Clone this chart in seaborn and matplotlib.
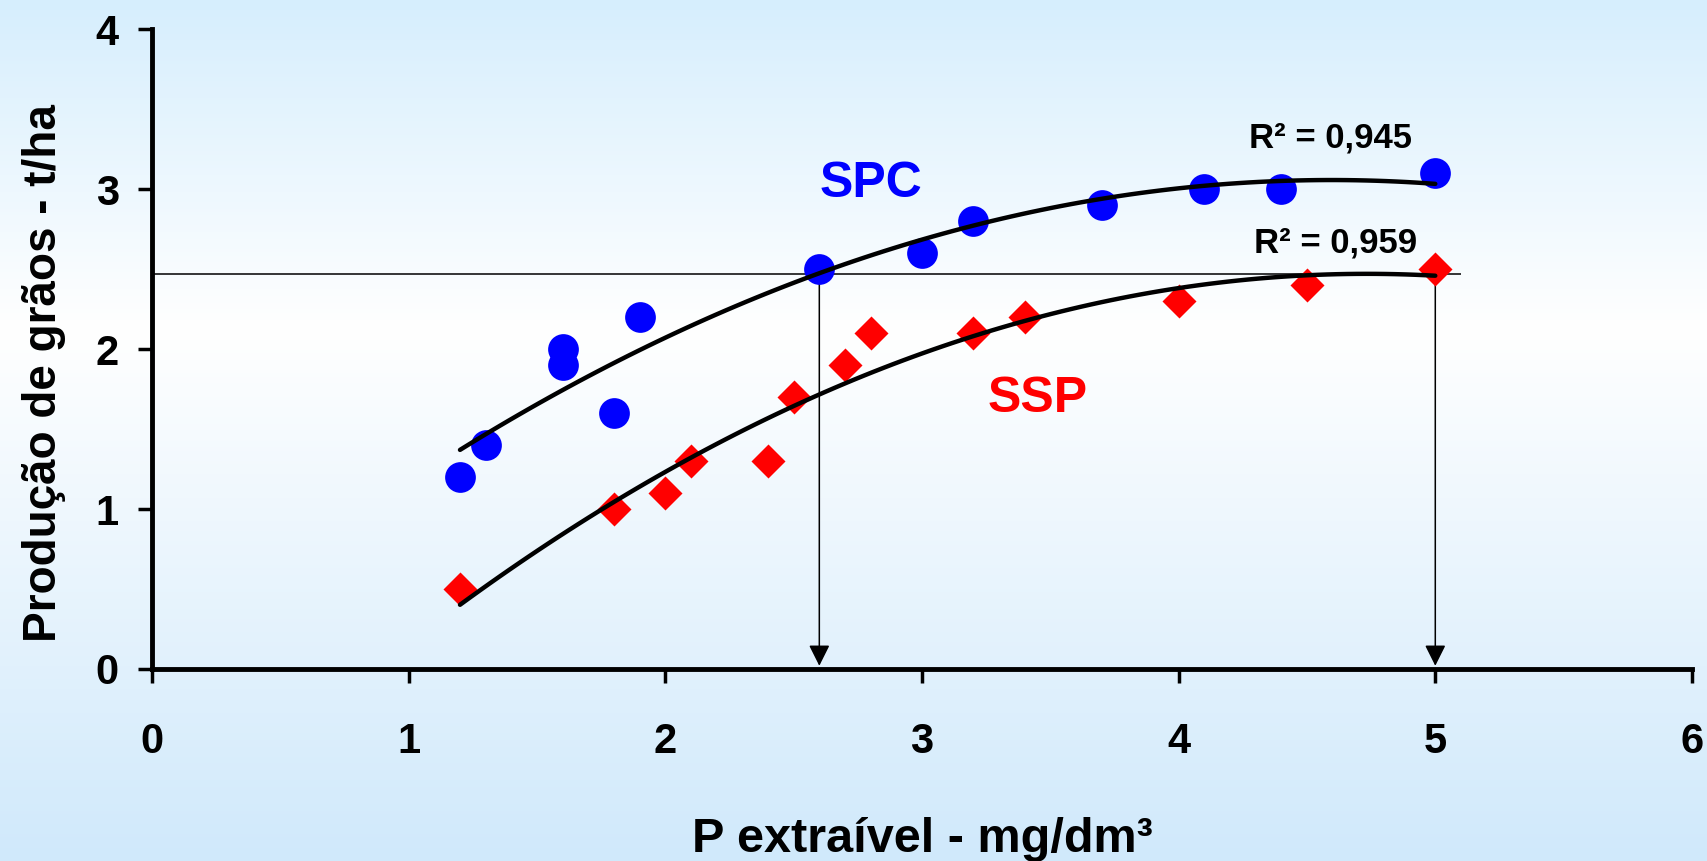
import numpy as np
import matplotlib
matplotlib.use("Agg")
import matplotlib.pyplot as plt
from matplotlib.colors import LinearSegmentedColormap
import seaborn as sns

################################
# data:
################################

spc_x = [1.2, 1.3, 1.6, 1.6, 1.8, 1.9, 2.6, 3.0, 3.2, 3.7, 4.1, 4.4, 5.0]
spc_y = [1.2, 1.4, 2.0, 1.9, 1.6, 2.2, 2.5, 2.6, 2.8, 2.9, 3.0, 3.0, 3.1]

ssp_x = [1.2, 1.8, 2.0, 2.1, 2.4, 2.5, 2.7, 2.8, 3.2, 3.4, 4.0, 4.5, 5.0]
ssp_y = [0.5, 1.0, 1.1, 1.3, 1.3, 1.7, 1.9, 2.1, 2.1, 2.2, 2.3, 2.4, 2.5]

ref_level = 2.47          # horizontal reference line
ref_line_end = 5.1
arrow_x = [2.6, 5.0]      # P levels reaching ref_level

r2_labels = ["R² = 0,945", "R² = 0,959"]
x_ticks = [0, 1, 2, 3, 4, 5, 6]
y_ticks = [0, 1, 2, 3, 4]

################################
# style:
################################

sns.set_style("ticks")
plt.rcParams["font.family"] = ["Liberation Sans", "DejaVu Sans"]
plt.rcParams["font.weight"] = "bold"
for key in ["text.color", "axes.labelcolor", "xtick.color", "ytick.color"]:
    plt.rcParams[key] = "black"

fig = plt.figure(figsize=(17.08, 8.61), dpi=100)

# vertical gradient background
bg = fig.add_axes([0, 0, 1, 1], zorder=-10)
cmap = LinearSegmentedColormap.from_list(
    "bg", [(0.0, "#d6eefd"), (0.38, "#ffffff"), (1.0, "#d0e9fb")]
)
grad = np.linspace(0, 1, 256).reshape(-1, 1)
bg.imshow(grad, aspect="auto", cmap=cmap, extent=[0, 1, 0, 1], origin="upper")
bg.set_axis_off()

ax = fig.add_axes([0.0890, 0.2230, 0.9016, 0.7433])
ax.set_facecolor("none")

################################
# plot:
################################

sns.regplot(x=spc_x, y=spc_y, order=2, ci=None, scatter=False, ax=ax,
            line_kws=dict(color="black", lw=3.2, zorder=3))
sns.regplot(x=ssp_x, y=ssp_y, order=2, ci=None, scatter=False, ax=ax,
            line_kws=dict(color="black", lw=3.2, zorder=3))

sns.scatterplot(x=spc_x, y=spc_y, marker="o", s=490, color="#0000ff",
                linewidth=0, ax=ax, zorder=2)
sns.scatterplot(x=ssp_x, y=ssp_y, marker="D", s=300, color="#ff0000",
                linewidth=0, ax=ax, zorder=2)

ax.hlines(ref_level, 0, ref_line_end, color="black", lw=1.1, zorder=1)
for xa in arrow_x:
    ax.annotate("", xy=(xa, 0.02), xytext=(xa, ref_level),
                arrowprops=dict(arrowstyle="-|>", mutation_scale=32,
                                lw=1.1, color="black",
                                shrinkA=0, shrinkB=0),
                zorder=1)

ax.text(2.80, 3.03, "SPC", color="#0000ff", fontsize=36,
        ha="center", va="center")
ax.text(3.45, 1.69, "SSP", color="#ff0000", fontsize=36,
        ha="center", va="center")
ax.text(4.59, 3.32, r2_labels[0], fontsize=25, ha="center", va="center")
ax.text(4.61, 2.66, r2_labels[1], fontsize=25, ha="center", va="center")

ax.set_xlim(0, 6)
ax.set_ylim(0, 4)
ax.set_xticks(x_ticks)
ax.set_yticks(y_ticks)

sns.despine(ax=ax)
for side in ["left", "bottom"]:
    ax.spines[side].set_linewidth(3.5)
    ax.spines[side].set_color("black")
ax.tick_params(axis="both", direction="out", length=10, width=2.5,
               color="black", labelcolor="black", labelsize=30)
ax.tick_params(axis="x", pad=28)
ax.tick_params(axis="y", pad=14)

ax.set_xlabel("P extraível - mg/dm³", fontsize=35, fontweight="bold")
ax.set_ylabel("Produção de grãos - t/ha", fontsize=33, fontweight="bold")
ax.xaxis.set_label_coords(0.5, -0.266)
ax.xaxis.label.set_va("center")
ax.yaxis.set_label_coords(-0.070, 0.4625)
ax.yaxis.label.set_va("center")

fig.savefig("out.png", dpi=100)
